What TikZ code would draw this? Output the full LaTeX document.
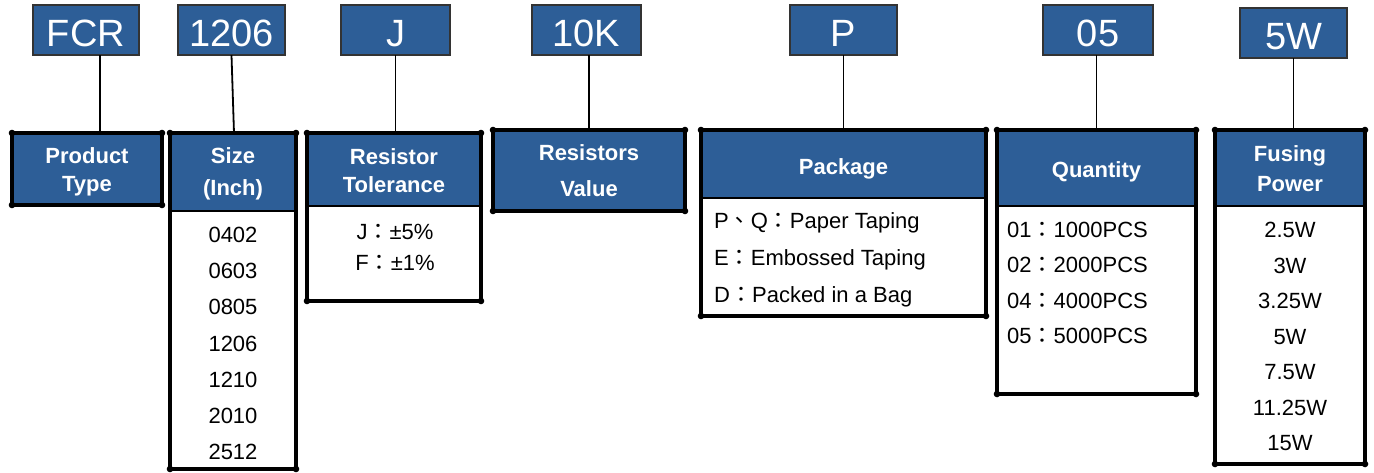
\documentclass[tikz,border=0pt]{standalone}
\usepackage{fontspec}
\setmainfont{Liberation Sans}
\newfontfamily\cjk{Noto Sans CJK TC}
\definecolor{blu}{RGB}{45,94,151}
\begin{document}
\begin{tikzpicture}[x=1pt,y=-1pt,
 code/.style={draw=black!80, line width=1.8pt, fill=blu, text=white, font=\fontsize{38}{40}\selectfont, inner sep=0, outer sep=0, minimum height=50pt, text height=32pt, text depth=0pt},
 hdr/.style={fill=blu, inner sep=0, outer sep=0},
 htxt/.style={text=white, align=center, inner sep=0},
 body/.style={fill=white, inner sep=0, outer sep=0},
 bord/.style={line width=4.5pt, line join=miter},
 thinl/.style={line width=1.8pt},
 conn/.style={line width=1.8pt},
 dot/.style={fill=black},
]
\useasboundingbox (0,0) rectangle (1374,472);
% code boxes
\node[code, minimum width=106pt] (cFCR) at (86,30) {FCR};
\node[code, minimum width=107pt] (c1206) at (231.5,30) {1206};
\node[code, minimum width=109pt] (cJ) at (395.5,30) {J};
\node[code, minimum width=109pt] (c10K) at (586.5,30) {10K};
\node[code, minimum width=107pt] (cP) at (843.5,30) {P};
\node[code, minimum width=110pt] (c05) at (1098,30) {05};
\node[code, minimum width=107pt] (c5W) at (1293.5,33) {5W};
% headers and bodies
\node[hdr, minimum width=150pt, minimum height=72pt] (pt) at (87,169) {};
\node[hdr, minimum width=126pt, minimum height=78pt] (sh) at (233,172) {};
\node[body, minimum width=126pt, minimum height=258pt] (sb) at (233,340) {};
\node[hdr, minimum width=174pt, minimum height=73pt] (th) at (394,169.5) {};
\node[body, minimum width=174pt, minimum height=95pt] (tb) at (394,253.5) {};
\node[hdr, minimum width=192pt, minimum height=81pt] (vh) at (589,170.5) {};
\node[hdr, minimum width=285pt, minimum height=68pt] (ph) at (843.5,164) {};
\node[body, minimum width=285pt, minimum height=118pt] (pb) at (843.5,257) {};
\node[hdr, minimum width=199pt, minimum height=76pt] (qh) at (1096.5,168) {};
\node[body, minimum width=199pt, minimum height=188pt] (qb) at (1096.5,300) {};
\node[hdr, minimum width=150pt, minimum height=76pt] (fh) at (1290,168) {};
\node[body, minimum width=150pt, minimum height=258pt] (fb) at (1290,335) {};
% header texts
\node[htxt, font={\bfseries\fontsize{22}{28}\selectfont}] (ptT) at ([yshift=-3.2pt]pt.center) {Product\\Type};
\node[htxt, font={\bfseries\fontsize{22}{32}\selectfont}] (shT) at ([yshift=-2.2pt]sh.center) {Size\\(Inch)};
\node[htxt, font={\bfseries\fontsize{22}{28}\selectfont}] (thT) at ([yshift=-1.5pt]th.center) {Resistor\\Tolerance};
\node[htxt, font={\bfseries\fontsize{22}{36}\selectfont}] (vhT) at ([yshift=-0.5pt]vh.center) {Resistors\\Value};
\node[htxt, font={\bfseries\fontsize{22}{28}\selectfont}] (phT) at ([yshift=-4.5pt]ph.center) {Package};
\node[htxt, font={\bfseries\fontsize{22}{28}\selectfont}] (qhT) at ([yshift=-4pt]qh.center) {Quantity};
\node[htxt, font={\bfseries\fontsize{22}{30}\selectfont}] (fhT) at ([yshift=-1pt]fh.center) {Fusing\\Power};
% connectors
\draw[conn] ([xshift=14pt]cFCR.south) -- ([xshift=14pt]cFCR.south |- pt.north);
\draw[conn] (c1206.south) -- ([xshift=1pt]sh.north);
\draw[conn] (cJ.south) -- (cJ.south |- th.north);
\draw[conn] ([xshift=2.5pt]c10K.south) -- (vh.north);
\draw[conn] (cP.south) -- (ph.north);
\draw[conn] (qh.north |- c05.south) -- (qh.north);
\draw[conn] (c5W.south) -- (c5W.south |- fh.north);
% borders
\draw[bord] (pt.north west) rectangle (pt.south east);
\draw[bord] (vh.north west) rectangle (vh.south east);
\foreach \h/\b in {sh/sb, th/tb, ph/pb, qh/qb, fh/fb}{
  \draw[bord] (\h.south west) -- (\h.north west) -- (\h.north east) -- (\b.south east) -- (\b.south west) -- cycle;
  \draw[thinl] (\h.south west) -- (\h.south east);
  \fill[dot] (\h.north west) circle (3.3pt);
  \fill[dot] (\h.north east) circle (3.3pt);
  \fill[dot] (\b.south west) circle (3.3pt);
  \fill[dot] (\b.south east) circle (3.3pt);
}
\foreach \h in {pt, vh}{
  \fill[dot] (\h.north west) circle (3.3pt);
  \fill[dot] (\h.north east) circle (3.3pt);
  \fill[dot] (\h.south west) circle (3.3pt);
  \fill[dot] (\h.south east) circle (3.3pt);
}
% contents
\node[font=\fontsize{22}{36.2}\selectfont, align=center, inner sep=0] (sl) at (233,343.5) {0402\\0603\\0805\\1206\\1210\\2010\\2512};
\node[font=\fontsize{22}{31}\selectfont, align=center, inner sep=0] (tl) at (395,247.5) {J{\cjk：}±5\%\\F{\cjk：}±1\%};
\node[font=\fontsize{22}{37}\selectfont, align=left, inner sep=0, anchor=west] (pl) at (714,260) {P{\cjk、}Q{\cjk：}Paper Taping\\E{\cjk：}Embossed Taping\\D{\cjk：}Packed in a Bag};
\node[font=\fontsize{22}{35.3}\selectfont, align=left, inner sep=0, anchor=west] (ql) at (1007,283) {01{\cjk：}1000PCS\\02{\cjk：}2000PCS\\04{\cjk：}4000PCS\\05{\cjk：}5000PCS};
\node[font=\fontsize{22}{35.5}\selectfont, align=center, inner sep=0] (fl) at (1290,336.5) {2.5W\\3W\\3.25W\\5W\\7.5W\\11.25W\\15W};
\end{tikzpicture}
\end{document}
